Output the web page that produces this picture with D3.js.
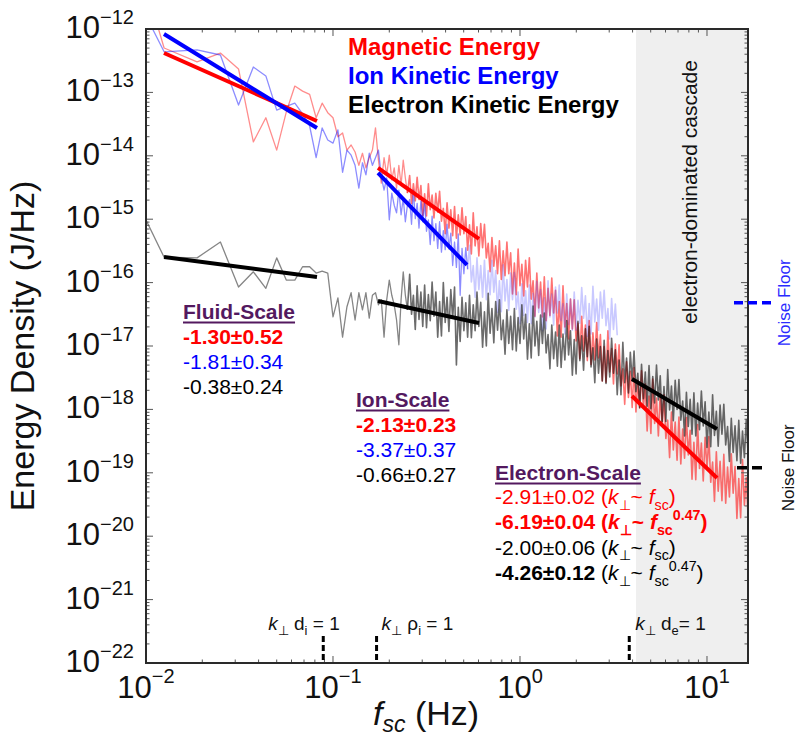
<!DOCTYPE html>
<html><head><meta charset="utf-8">
<script src="https://cdn.jsdelivr.net/npm/d3@7"></script>
<style>
body{margin:0;background:#fff}
svg{display:block}
text{font-family:"Liberation Sans",Arial,Helvetica,sans-serif}
</style>
</head><body>
<svg id="chart" width="800" height="749"></svg>
<script>
// ---------------- DATA ----------------
// frequency sampling: first 40 FFT bins individually, then a log-spaced grid
const binWidthHz = 0.00625;
const lowBins = d3.range(1, 41);
const highLogStart = -0.59, highLogStep = 0.01, highCount = 183;
const freqHz = lowBins.map(k => k * binWidthHz)
  .concat(d3.range(highCount).map(j => Math.pow(10, highLogStart + highLogStep * j)));

// log10 of energy density (J/Hz)
const magneticLog10 = [
-9.30,-12.30,-12.52,-12.38,-12.63,-13.78,-13.40,-13.91,-13.31,-12.90,
-12.98,-13.03,-13.40,-13.17,-13.32,-13.40,-13.70,-13.64,-13.91,-13.83,
-13.94,-14.15,-13.96,-14.19,-14.03,-13.91,-13.56,-14.07,-14.43,-14.03,
-14.30,-13.99,-14.38,-14.19,-14.51,-14.15,-14.46,-14.07,-14.35,-14.59,
-14.31,-14.75,-14.44,-14.71,-14.34,-14.69,-14.47,-14.94,
-14.60,-14.95,-14.44,-14.85,-14.62,-14.98,-14.59,-14.89,
-14.56,-15.03,-14.83,-15.23,-14.74,-15.14,-14.85,-15.26,
-14.80,-15.30,-14.93,-15.25,-14.82,-15.23,-14.96,-15.49,
-15.09,-15.55,-14.90,-15.42,-15.12,-15.58,-15.07,-15.45,
-15.08,-15.61,-15.38,-15.83,-15.29,-15.74,-15.42,-15.86,
-15.34,-15.95,-15.50,-15.89,-15.36,-15.86,-15.53,-16.18,
-15.69,-16.19,-15.47,-16.05,-15.71,-16.21,-15.65,-16.07,
-15.61,-16.26,-15.97,-16.53,-15.85,-16.40,-15.99,-16.54,
-15.91,-16.60,-16.09,-16.52,-15.93,-16.48,-16.12,-16.84,
-16.30,-16.86,-16.05,-16.70,-16.33,-16.89,-16.26,-16.73,
-16.27,-16.92,-16.64,-17.20,-16.53,-17.08,-16.67,-17.23,
-16.60,-17.29,-16.79,-17.22,-16.63,-17.19,-16.82,-17.55,
-17.01,-17.57,-16.76,-17.41,-17.04,-17.60,-16.97,-17.44,
-16.98,-17.63,-17.36,-17.92,-17.25,-17.81,-17.40,-17.97,
-17.34,-18.04,-17.54,-17.98,-17.39,-17.96,-17.60,-18.34,
-17.79,-18.38,-17.52,-18.22,-17.82,-18.42,-17.75,-18.25,
-17.77,-18.46,-18.17,-18.76,-18.04,-18.64,-18.20,-18.80,
-18.12,-18.86,-18.31,-18.77,-18.13,-18.72,-18.33,-19.10,
-18.52,-19.11,-18.24,-18.93,-18.53,-19.13,-18.44,-18.94,
-18.43,-19.15,-18.83,-19.45,-18.67,-19.29,-18.82,-19.44,
-18.71,-19.48,-18.91,-19.38,-18.70,-19.32,-18.90,-19.72,
-19.09,-19.71,-18.79,-19.51,-19.08,-19.70,-18.98
];
const ionLog10 = [
-10.60,-12.36,-12.33,-12.41,-13.20,-12.60,-12.74,-13.28,-13.22,-13.17,
-13.34,-13.53,-14.03,-13.56,-13.75,-13.80,-13.59,-14.26,-13.91,-13.99,
-14.15,-14.51,-14.11,-14.30,-13.96,-14.15,-14.03,-13.91,-14.33,-14.54,
-14.35,-15.01,-14.59,-14.78,-14.90,-14.54,-14.93,-14.67,-15.04,-14.78,
-14.69,-15.08,-14.54,-14.99,-14.75,-15.14,-14.71,-15.04,
-14.74,-15.19,-15.01,-15.40,-14.95,-15.34,-15.07,-15.46,
-15.04,-15.52,-15.18,-15.48,-15.08,-15.47,-15.22,-15.73,
-15.36,-15.76,-15.23,-16.20,-15.46,-15.86,-15.45,-15.79,
-15.41,-15.99,-15.73,-16.23,-15.61,-16.11,-15.73,-16.23,
-15.65,-16.27,-15.81,-16.19,-15.65,-16.15,-15.81,-16.47,
-15.97,-16.46,-15.72,-16.29,-15.95,-16.44,-15.85,-16.27,
-15.84,-16.42,-16.15,-16.65,-16.02,-16.52,-16.13,-16.63,
-16.04,-16.65,-16.17,-16.54,-15.98,-16.47,-16.11,-16.76,
-16.24,-16.73,-15.97,-16.54,-16.18,-16.67,-16.07,-16.48,
-16.04,-16.60,-16.33,-16.81,-16.18,-16.66,-16.26,-16.75,
-16.15,-16.75,-16.28,-16.64,-16.08,-16.56,-16.21,-16.85,
-16.33,-16.81,-16.06,-16.62,-16.26,-16.75,-16.15,-16.56,
-16.12,-16.68,-16.41,-16.89,-16.25,-16.74,-16.34,-16.83
];
const electronLog10 = [
-13.78,-15.60,-15.61,-15.36,-16.07,-15.83,-16.09,-15.61,-15.96,-15.96,
-15.75,-15.75,-15.85,-15.82,-15.85,-16.54,-16.24,-16.86,-16.38,-16.16,
-16.59,-16.16,-16.43,-16.16,-16.56,-16.20,-16.16,-16.35,-16.27,-16.86,
-16.27,-15.96,-16.20,-16.35,-16.59,-16.98,-16.27,-15.83,-16.20,-16.43,
-15.87,-16.50,-16.20,-16.74,-16.05,-16.58,-16.15,-16.69,
-16.04,-16.71,-16.19,-16.60,-15.99,-16.53,-16.15,-16.86,
-16.30,-16.84,-16.00,-16.63,-16.23,-16.77,-16.11,-16.56,
-16.07,-17.30,-16.39,-16.93,-16.23,-16.76,-16.32,-16.86,
-16.20,-16.87,-16.35,-16.76,-16.15,-16.69,-16.31,-17.02,
-16.46,-17.00,-16.17,-16.80,-16.41,-16.95,-16.30,-16.75,
-16.27,-16.90,-16.59,-17.13,-16.43,-16.96,-16.53,-17.06,
-16.41,-17.08,-16.55,-16.96,-16.35,-16.89,-16.50,-17.21,
-16.65,-17.19,-16.37,-17.00,-16.61,-17.15,-16.51,-16.96,
-16.48,-17.11,-16.82,-17.36,-16.67,-17.20,-16.78,-17.32,
-16.67,-17.34,-16.81,-17.22,-16.60,-17.14,-16.76,-17.46,
-16.90,-17.44,-16.61,-17.23,-16.84,-17.38,-16.73,-17.17,
-16.69,-17.33,-17.03,-17.58,-16.89,-17.43,-17.01,-17.55,
-16.91,-17.59,-17.07,-17.49,-16.88,-17.43,-17.06,-17.77,
-17.22,-17.77,-16.94,-17.58,-17.19,-17.74,-17.10,-17.55,
-17.08,-17.72,-17.43,-17.97,-17.29,-17.83,-17.41,-17.95,
-17.31,-17.99,-17.48,-17.90,-17.30,-17.85,-17.47,-18.19,
-17.64,-18.19,-17.37,-18.01,-17.63,-18.18,-17.54,-18.00,
-17.53,-18.17,-17.87,-18.42,-17.73,-18.27,-17.84,-18.39,
-17.74,-18.42,-17.90,-18.32,-17.71,-18.26,-17.88,-18.60,
-18.04,-18.59,-17.77,-18.41,-18.03,-18.58,-17.93,-18.39,
-17.92,-18.56,-18.27,-18.82,-18.14,-18.68,-18.26,-18.81,
-18.17,-18.85,-18.34,-18.76,-18.16,-18.71,-18.34
];
const ionFitRangeEndHz = 0.52;   // ion spectrum drawn paler above this
const denseStartHz = 0.25;       // spectra become densely sampled above this

// power-law fits: [fStartHz, log10 E start, fEndHz, log10 E end]
const magneticFits = [[0.01248,-12.379,0.0821,-13.451],[0.174,-14.192,0.6035,-15.312],[3.97,-17.789,11.31,-19.082]];
const ionFits      = [[0.01248,-12.079,0.0821,-13.562],[0.174,-14.271,0.5206,-15.722]];
const electronFits = [[0.01248,-15.596,0.0821,-15.912],[0.174,-16.290,0.6035,-16.637],[3.97,-17.520,11.31,-18.309]];

const electronRegionStartHz = 4.17;
const ionNoiseFloor = 4.8e-17, electronNoiseFloor = 1.2e-19;
const markerHz = [0.0887, 0.171, 3.84];

const xDomain = [0.01, 16.57], yDomain = [1e-22, 1e-12];
const xMajor = [0.01, 0.1, 1, 10], xMajorExp = ["\u22122", "\u22121", "0", "1"];
const yMajor = [1e-12,1e-13,1e-14,1e-15,1e-16,1e-17,1e-18,1e-19,1e-20,1e-21,1e-22];
const yMajorExp = ["\u221212","\u221213","\u221214","\u221215","\u221216","\u221217","\u221218","\u221219","\u221220","\u221221","\u221222"];

const legendLabels = ["Magnetic Energy", "Ion Kinetic Energy", "Electron Kinetic Energy"];
const legendColors = ["#ff0000", "#0000ff", "#000000"];

// ---------------- CHART ----------------
const L = 146, R = 748, T = 29, B = 663;
const svg = d3.select("#chart");
const x = d3.scaleLog().domain(xDomain).range([L, R]);
const y = d3.scaleLog().domain(yDomain).range([B, T]);

svg.append("defs").append("clipPath").attr("id", "plotclip")
  .append("rect").attr("x", L).attr("y", T).attr("width", R - L).attr("height", B - T);

// shaded electron-dominated region
svg.append("rect").attr("x", x(electronRegionStartHz)).attr("y", T)
  .attr("width", x(xDomain[1]) - x(electronRegionStartHz)).attr("height", B - T)
  .attr("fill", "#efefef");

const plot = svg.append("g").attr("clip-path", "url(#plotclip)");
const line = d3.line().x(d => x(d.f)).y(d => y(d.e));
const toPts = arr => arr.map((v, i) => ({ f: freqHz[i], e: Math.pow(10, v) }));

const magPts = toPts(magneticLog10), ionPts = toPts(ionLog10), elePts = toPts(electronLog10);
const ionSplit = ionPts.findIndex(d => d.f >= ionFitRangeEndHz);
const denseSplit = magPts.findIndex(d => d.f >= denseStartHz);

function spectrum(pts, split, c1, c2, w1, w2) {
  plot.append("path").attr("d", line(pts.slice(0, split + 1))).attr("fill", "none")
    .attr("stroke", c1).attr("stroke-width", w1).attr("stroke-linejoin", "round");
  plot.append("path").attr("d", line(pts.slice(split))).attr("fill", "none")
    .attr("stroke", c2).attr("stroke-width", w2).attr("stroke-linejoin", "round");
}
spectrum(magPts, denseSplit, "rgba(255,0,0,0.45)", "rgba(255,0,0,0.55)", 1.3, 1.6);
spectrum(ionPts, ionSplit, "rgba(0,0,255,0.45)", "rgba(60,60,255,0.28)", 1.3, 1.6);
spectrum(elePts, denseSplit, "rgba(0,0,0,0.48)", "rgba(0,0,0,0.58)", 1.3, 1.6);

function drawFits(fits, color) {
  fits.forEach(fz => {
    plot.append("line")
      .attr("x1", x(fz[0])).attr("y1", y(Math.pow(10, fz[1])))
      .attr("x2", x(fz[2])).attr("y2", y(Math.pow(10, fz[3])))
      .attr("stroke", color).attr("stroke-width", 4);
  });
}
drawFits(magneticFits, "#ff0000");
drawFits(ionFits, "#0000ff");
drawFits(electronFits, "#000000");

// ---- axes box and ticks ----
const minorX = [];
[-2, -1, 0, 1].forEach(d => { for (let m = 2; m <= 9; m++) { const v = m * Math.pow(10, d); if (v <= xDomain[1]) minorX.push(v); } });
const minorY = [];
for (let d = -22; d <= -13; d++) for (let m = 2; m <= 9; m++) minorY.push(m * Math.pow(10, d));

const ticks = svg.append("g").attr("stroke", "#555").attr("stroke-width", 1);
function xt(vals, len) {
  vals.forEach(v => {
    ticks.append("line").attr("x1", x(v)).attr("x2", x(v)).attr("y1", B).attr("y2", B - len);
    ticks.append("line").attr("x1", x(v)).attr("x2", x(v)).attr("y1", T).attr("y2", T + len);
  });
}
function yt(vals, len) {
  vals.forEach(v => {
    ticks.append("line").attr("y1", y(v)).attr("y2", y(v)).attr("x1", L).attr("x2", L + len);
    ticks.append("line").attr("y1", y(v)).attr("y2", y(v)).attr("x1", R).attr("x2", R - len);
  });
}
xt(xMajor, 7); xt(minorX, 3.5); yt(yMajor, 7); yt(minorY, 3.5);

svg.append("rect").attr("x", L).attr("y", T).attr("width", R - L).attr("height", B - T)
  .attr("fill", "none").attr("stroke", "#2a2a2a").attr("stroke-width", 2);

// tick labels
xMajor.forEach((v, i) => {
  const t = svg.append("text").attr("x", x(v)).attr("y", 698).attr("text-anchor", "middle").attr("fill", "#111");
  t.append("tspan").attr("font-size", 31).text("10");
  t.append("tspan").attr("font-size", 20).attr("dy", -15).text(xMajorExp[i]);
});
yMajor.forEach((v, i) => {
  const t = svg.append("text").attr("x", 134).attr("y", y(v) + 9).attr("text-anchor", "end").attr("fill", "#111");
  t.append("tspan").attr("font-size", 31).text("10");
  t.append("tspan").attr("font-size", 20).attr("dy", -14).text(yMajorExp[i]);
});

// axis titles
svg.append("text").attr("transform", `translate(34,${(T + B) / 2}) rotate(-90)`)
  .attr("text-anchor", "middle").attr("font-size", 34).attr("fill", "#111").text("Energy Density (J/Hz)");
const xt1 = svg.append("text").attr("x", 373).attr("y", 725).attr("font-size", 34).attr("fill", "#111");
xt1.append("tspan").attr("font-style", "italic").text("f");
xt1.append("tspan").attr("font-style", "italic").attr("font-size", 23).attr("dy", 7).text("sc");
xt1.append("tspan").attr("dy", -7).text(" (Hz)");

// legend
legendLabels.forEach((s, i) => {
  svg.append("text").attr("x", 348).attr("y", 55 + i * 29).attr("font-size", 24)
    .attr("font-weight", "bold").attr("fill", legendColors[i]).text(s);
});

// rich text helper
function rich(parent, segs, size) {
  let shift = 0;
  segs.forEach(s => {
    const target = s.sub ? size * 0.28 : s.sup ? -size * 0.42 : 0;
    const ts = parent.append("tspan").text(s.t).attr("dy", target - shift);
    shift = target;
    if (s.i) ts.attr("font-style", "italic");
    if (s.b !== undefined) ts.attr("font-weight", s.b ? "bold" : "normal");
    if (s.sub || s.sup) ts.attr("font-size", size * 0.68);
  });
}
const purple = "#53195f";
function title(xp, yp, s) {
  const t = svg.append("text").attr("x", xp).attr("y", yp).attr("font-size", 21)
    .attr("font-weight", "bold").attr("fill", purple).text(s);
  const w = t.node().getComputedTextLength();
  svg.append("line").attr("x1", xp).attr("x2", xp + w).attr("y1", yp + 3.5).attr("y2", yp + 3.5)
    .attr("stroke", purple).attr("stroke-width", 2);
}
function plain(xp, yp, s, color, bold) {
  svg.append("text").attr("x", xp).attr("y", yp).attr("font-size", 21)
    .attr("font-weight", bold ? "bold" : "normal").attr("fill", color).text(s);
}

// fluid / ion scale slopes
const fluidSlopes = ["-1.30\u00b10.52", "-1.81\u00b10.34", "-0.38\u00b10.24"];
const ionSlopes = ["-2.13\u00b10.23", "-3.37\u00b10.37", "-0.66\u00b10.27"];
const slopeColors = ["#ff0000", "#0000ff", "#000000"];
title(183, 319, "Fluid-Scale");
fluidSlopes.forEach((s, i) => plain(183, 344 + i * 25, s, slopeColors[i], i === 0));
title(356, 407, "Ion-Scale");
ionSlopes.forEach((s, i) => plain(356, 432 + i * 25, s, slopeColors[i], i === 0));

// electron scale
title(495, 480, "Electron-Scale");
const kf = (power) => {
  const a = [{ t: " (" }, { t: "k", i: true }, { t: "\u22a5", sub: true }, { t: "~ " }, { t: "f", i: true }, { t: "sc", sub: true }];
  if (power) a.push({ t: "0.47", sup: true });
  a.push({ t: ")" });
  return a;
};
const electronLines = [
  { color: "#ff0000", bold: false, num: "-2.91\u00b10.02", power: false, numBold: false },
  { color: "#ff0000", bold: true, num: "-6.19\u00b10.04", power: true, numBold: true },
  { color: "#000000", bold: false, num: "-2.00\u00b10.06", power: false, numBold: false },
  { color: "#000000", bold: false, num: "-4.26\u00b10.12", power: true, numBold: true }
];
electronLines.forEach((ln, i) => {
  const t = svg.append("text").attr("x", 495).attr("y", 504 + i * 25.3).attr("font-size", 21)
    .attr("fill", ln.color).attr("font-weight", ln.bold ? "bold" : "normal");
  t.append("tspan").attr("font-weight", ln.numBold ? "bold" : "normal").text(ln.num);
  rich(t, kf(ln.power), 21);
});

// characteristic scale markers
markerHz.forEach(f => {
  svg.append("line").attr("x1", x(f)).attr("x2", x(f)).attr("y1", B - 3).attr("y2", B - 30)
    .attr("stroke", "#000").attr("stroke-width", 3).attr("stroke-dasharray", "6,3");
});
const markerLabels = [
  [{ t: "k", i: true }, { t: "\u22a5", sub: true }, { t: " d" }, { t: "i", sub: true }, { t: " = 1" }],
  [{ t: "k", i: true }, { t: "\u22a5", sub: true }, { t: " \u03c1" }, { t: "i", sub: true }, { t: " = 1" }],
  [{ t: "k", i: true }, { t: "\u22a5", sub: true }, { t: " d" }, { t: "e", sub: true }, { t: "= 1" }]
];
const markerLabelOffset = [-55, 5, 6];
markerLabels.forEach((segs, i) => {
  const t = svg.append("text").attr("x", x(markerHz[i]) + markerLabelOffset[i]).attr("y", 630)
    .attr("font-size", 19).attr("fill", "#111");
  rich(t, segs, 19);
});

// region label
svg.append("text").attr("transform", `translate(697,192) rotate(-90)`).attr("text-anchor", "middle")
  .attr("font-size", 21).attr("fill", "#111").text("electron-dominated cascade");

// noise floors
svg.append("line").attr("x1", 734).attr("x2", 773).attr("y1", y(ionNoiseFloor)).attr("y2", y(ionNoiseFloor))
  .attr("stroke", "#0000ff").attr("stroke-width", 3.5).attr("stroke-dasharray", "9,5");
svg.append("text").attr("transform", `translate(790,${y(ionNoiseFloor)}) rotate(-90)`).attr("text-anchor", "middle")
  .attr("font-size", 17).attr("fill", "#2a2aff").text("Noise Floor");
svg.append("line").attr("x1", 737).attr("x2", 767).attr("y1", y(electronNoiseFloor)).attr("y2", y(electronNoiseFloor))
  .attr("stroke", "#000").attr("stroke-width", 3.5).attr("stroke-dasharray", "10,5");
svg.append("text").attr("transform", `translate(794,${y(electronNoiseFloor)}) rotate(-90)`).attr("text-anchor", "middle")
  .attr("font-size", 17).attr("fill", "#111").text("Noise Floor");
</script>
</body></html>
